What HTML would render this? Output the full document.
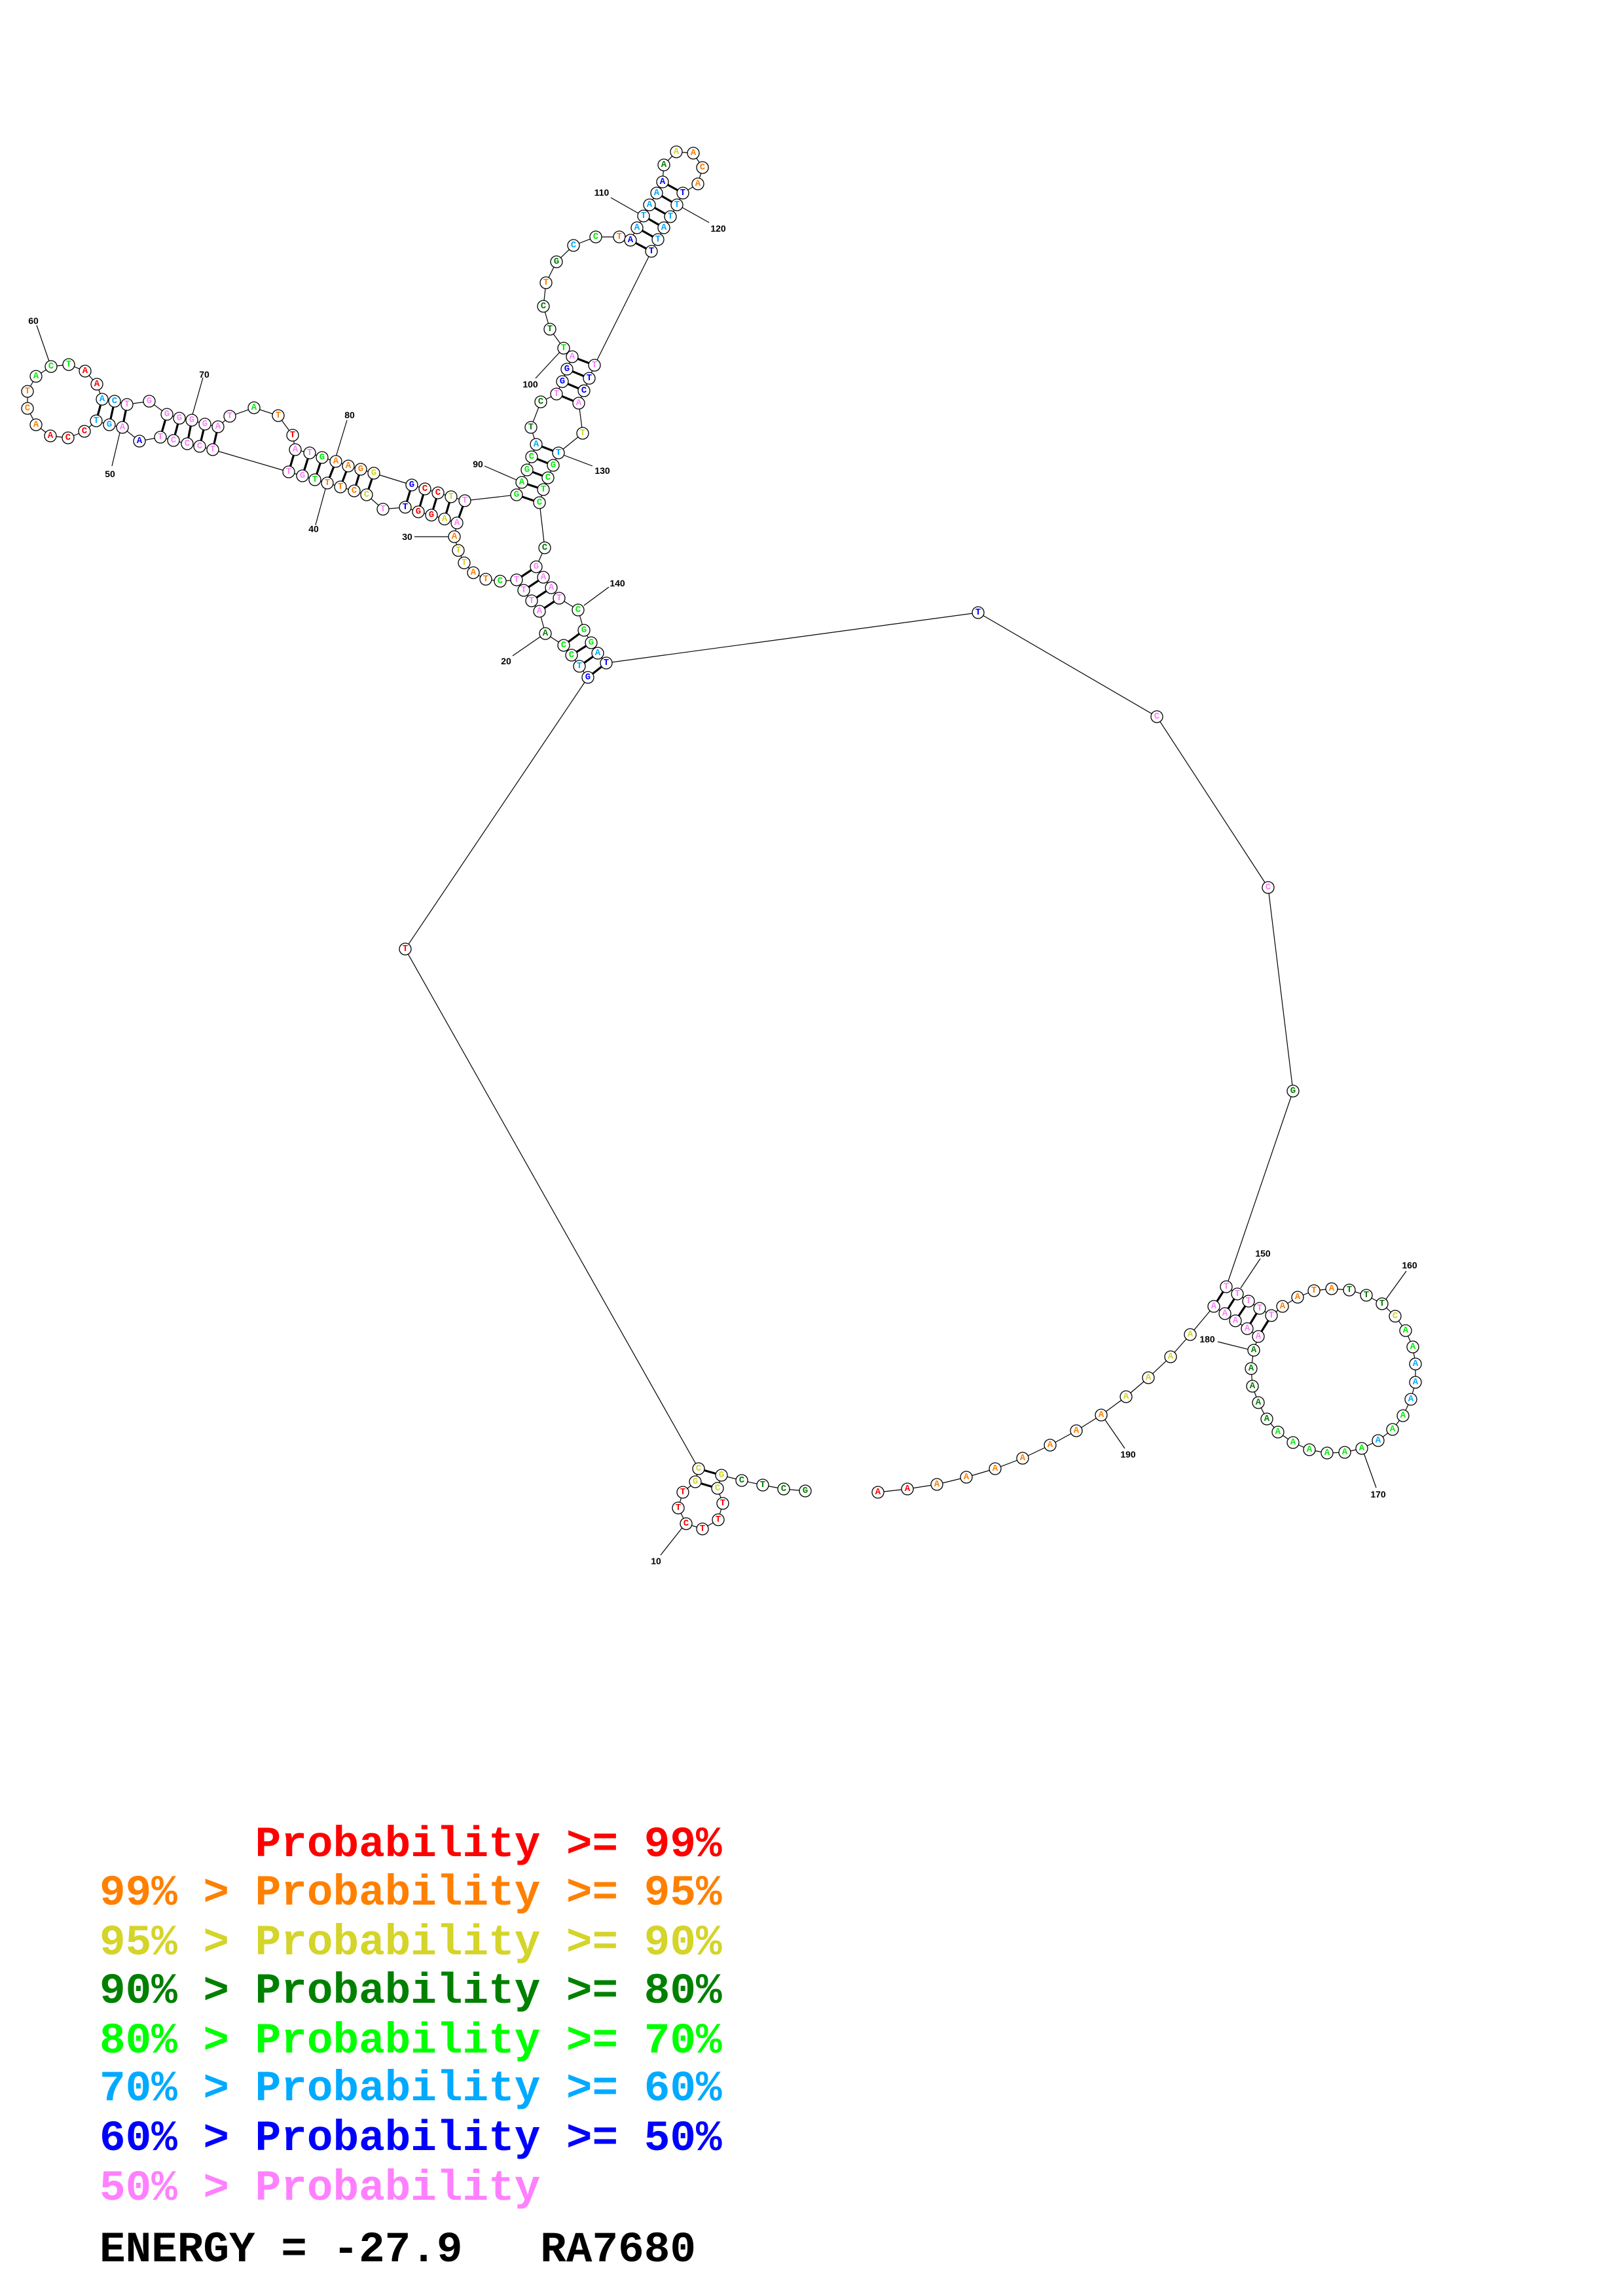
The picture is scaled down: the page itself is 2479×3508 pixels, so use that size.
<!DOCTYPE html>
<html><head><meta charset="utf-8">
<style>
html,body{margin:0;padding:0;background:#fff;}
svg{display:block;}
.n circle{fill:#fff;stroke:#000;stroke-width:1.3;}
.n text{font-family:"Liberation Mono",monospace;font-weight:bold;font-size:14px;text-anchor:middle;dominant-baseline:central;}
.r{fill:#ff0000}.o{fill:#ff8000}.y{fill:#d4d42a}.d{fill:#008000}.g{fill:#00ee00}.lb{fill:#00aaff}.b{fill:#0000ff}.p{fill:#ff80ff}
.lab{font-family:"Liberation Sans",sans-serif;font-weight:bold;font-size:14px;text-anchor:middle;dominant-baseline:central;fill:#000}
.leg{font-family:"Liberation Mono",monospace;font-weight:bold;font-size:66px;white-space:pre;}
</style></head><body>
<svg width="2479" height="3508" viewBox="0 0 2479 3508" xmlns="http://www.w3.org/2000/svg">
<g stroke="#000" stroke-width="1.2" fill="none">
<polyline points="1230,2278 1197,2275 1165,2269 1133,2262 1102,2254 1096,2274 1104,2297 1097,2322 1073,2336 1048,2328 1036,2304 1043,2280 1062,2264 1067,2244 619,1450 898,1035 885,1018 873,1001 861,986 833,968 824,934 812,918 800,902 789,886 764,888 742,885 723,875 709,860 700,841 694,820 698,799 679,793 659,787 639,782 619,775 585,778 560,756 541,750 520,744 500,738 481,733 462,727 441,721 325,687 305,682 286,678 265,673 245,668 213,674 187,653 167,649 147,643 129,659 104,669 77,666 55,649 42,624 42,598 55,575 78,560 105,557 130,567 148,587 156,610 175,613 194,618 228,613 255,633 274,639 293,642 313,648 333,652 351,636 388,623 425,635 447,665 451,687 473,692 492,699 513,705 532,712 551,717 571,723 629,741 649,747 669,753 689,759 710,765 789,756 797,737 805,718 812,698 819,679 811,653 826,614 850,602 859,583 866,564 874,545 861,532 840,503 830,468 834,432 850,400 876,375 910,362 946,362 963,367 973,348 983,330 992,313 1003,295 1012,278 1014,252 1033,232 1059,234 1073,256 1066,281 1043,295 1034,313 1024,331 1014,348 1005,366 995,384 908,558 900,578 892,597 884,616 890,662 853,692 845,711 837,730 830,748 824,768 832,837 819,866 830,882 842,898 854,914 883,932 892,963 903,982 913,998 926,1013 1494,936 1767,1095 1937,1356 1975,1667 1873,1966 1890,1977 1907,1988 1924,1999 1942,2010 1959,1996 1982,1982 2007,1972 2034,1969 2061,1971 2087,1979 2111,1992 2131,2011 2147,2033 2158,2058 2162,2084 2162,2112 2155,2138 2143,2163 2127,2184 2105,2201 2080,2213 2054,2219 2027,2220 2000,2215 1975,2204 1952,2188 1935,2168 1922,2143 1913,2118 1911,2091 1915,2063 1922,2042 1905,2030 1887,2018 1871,2007 1854,1996 1818,2039 1788,2073 1754,2105 1720,2134 1682,2162 1644,2186 1604,2208 1562,2228 1520,2244 1476,2257 1431,2268 1386,2275 1341,2280"/>
</g>
<g stroke="#000" stroke-width="3.2">
<line x1="1067" y1="2244" x2="1102" y2="2254"/><line x1="1062" y1="2264" x2="1096" y2="2274"/>
<line x1="898" y1="1035" x2="926" y2="1013"/><line x1="885" y1="1018" x2="913" y2="998"/><line x1="873" y1="1001" x2="903" y2="982"/><line x1="861" y1="986" x2="892" y2="963"/>
<line x1="789" y1="886" x2="819" y2="866"/><line x1="800" y1="902" x2="830" y2="882"/><line x1="812" y1="918" x2="842" y2="898"/><line x1="824" y1="934" x2="854" y2="914"/>
<line x1="619" y1="775" x2="629" y2="741"/><line x1="639" y1="782" x2="649" y2="747"/><line x1="659" y1="787" x2="669" y2="753"/><line x1="679" y1="793" x2="689" y2="759"/><line x1="698" y1="799" x2="710" y2="765"/>
<line x1="441" y1="721" x2="451" y2="687"/><line x1="462" y1="727" x2="473" y2="692"/><line x1="481" y1="733" x2="492" y2="699"/><line x1="500" y1="738" x2="513" y2="705"/><line x1="520" y1="744" x2="532" y2="712"/><line x1="541" y1="750" x2="551" y2="717"/><line x1="560" y1="756" x2="571" y2="723"/>
<line x1="245" y1="668" x2="255" y2="633"/><line x1="265" y1="673" x2="274" y2="639"/><line x1="286" y1="678" x2="293" y2="642"/><line x1="305" y1="682" x2="313" y2="648"/><line x1="325" y1="687" x2="333" y2="652"/>
<line x1="187" y1="653" x2="194" y2="618"/><line x1="167" y1="649" x2="175" y2="613"/><line x1="147" y1="643" x2="156" y2="610"/>
<line x1="789" y1="756" x2="824" y2="768"/><line x1="797" y1="737" x2="830" y2="748"/><line x1="805" y1="718" x2="837" y2="730"/><line x1="812" y1="698" x2="845" y2="711"/><line x1="819" y1="679" x2="853" y2="692"/>
<line x1="850" y1="602" x2="884" y2="616"/><line x1="859" y1="583" x2="892" y2="597"/><line x1="866" y1="564" x2="900" y2="578"/><line x1="874" y1="545" x2="908" y2="558"/>
<line x1="963" y1="367" x2="995" y2="384"/><line x1="973" y1="348" x2="1005" y2="366"/><line x1="983" y1="330" x2="1014" y2="348"/><line x1="992" y1="313" x2="1024" y2="331"/><line x1="1003" y1="295" x2="1034" y2="313"/><line x1="1012" y1="278" x2="1043" y2="295"/>
<line x1="1873" y1="1966" x2="1854" y2="1996"/><line x1="1890" y1="1977" x2="1871" y2="2007"/><line x1="1907" y1="1988" x2="1887" y2="2018"/><line x1="1924" y1="1999" x2="1905" y2="2030"/><line x1="1942" y1="2010" x2="1922" y2="2042"/>
</g>
<g stroke="#000" stroke-width="1.2">
<line x1="1009" y1="2376" x2="1043" y2="2333"/><line x1="783" y1="1002" x2="825" y2="973"/><line x1="633" y1="820" x2="687" y2="820"/><line x1="482" y1="802" x2="499" y2="740"/><line x1="171" y1="712" x2="184" y2="657"/><line x1="56" y1="497" x2="75" y2="552"/><line x1="310" y1="577" x2="293" y2="637"/><line x1="530" y1="642" x2="513" y2="698"/><line x1="740" y1="712" x2="793" y2="735"/><line x1="818" y1="578" x2="855" y2="538"/><line x1="933" y1="302" x2="977" y2="327"/><line x1="1042" y1="317" x2="1083" y2="340"/><line x1="860" y1="695" x2="905" y2="712"/><line x1="930" y1="897" x2="892" y2="925"/><line x1="1925" y1="1923" x2="1895" y2="1968"/><line x1="2148" y1="1942" x2="2117" y2="1985"/><line x1="2102" y1="2273" x2="2083" y2="2220"/><line x1="1860" y1="2050" x2="1908" y2="2062"/><line x1="1718" y1="2213" x2="1687" y2="2168"/>
</g>
<g>
<text class="lab" x="1002" y="2385">10</text><text class="lab" x="773" y="1010">20</text><text class="lab" x="622" y="820">30</text><text class="lab" x="479" y="808">40</text><text class="lab" x="168" y="724">50</text><text class="lab" x="51" y="490">60</text><text class="lab" x="312" y="572">70</text><text class="lab" x="534" y="634">80</text><text class="lab" x="730" y="709">90</text><text class="lab" x="810" y="587">100</text><text class="lab" x="919" y="294">110</text><text class="lab" x="1097" y="349">120</text><text class="lab" x="920" y="719">130</text><text class="lab" x="943" y="891">140</text><text class="lab" x="1929" y="1915">150</text><text class="lab" x="2153" y="1933">160</text><text class="lab" x="2105" y="2283">170</text><text class="lab" x="1844" y="2046">180</text><text class="lab" x="1723" y="2222">190</text>
</g>
<g class="n">
<circle cx="1230" cy="2278" r="9"/><text class="d" x="1230" y="2278">G</text>
<circle cx="1197" cy="2275" r="9"/><text class="d" x="1197" y="2275">C</text>
<circle cx="1165" cy="2269" r="9"/><text class="d" x="1165" y="2269">T</text>
<circle cx="1133" cy="2262" r="9"/><text class="d" x="1133" y="2262">C</text>
<circle cx="1102" cy="2254" r="9"/><text class="y" x="1102" y="2254">G</text>
<circle cx="1096" cy="2274" r="9"/><text class="y" x="1096" y="2274">C</text>
<circle cx="1104" cy="2297" r="9"/><text class="r" x="1104" y="2297">T</text>
<circle cx="1097" cy="2322" r="9"/><text class="r" x="1097" y="2322">T</text>
<circle cx="1073" cy="2336" r="9"/><text class="r" x="1073" y="2336">T</text>
<circle cx="1048" cy="2328" r="9"/><text class="r" x="1048" y="2328">C</text>
<circle cx="1036" cy="2304" r="9"/><text class="r" x="1036" y="2304">T</text>
<circle cx="1043" cy="2280" r="9"/><text class="r" x="1043" y="2280">T</text>
<circle cx="1062" cy="2264" r="9"/><text class="y" x="1062" y="2264">G</text>
<circle cx="1067" cy="2244" r="9"/><text class="y" x="1067" y="2244">C</text>
<circle cx="619" cy="1450" r="9"/><text class="r" x="619" y="1450">T</text>
<circle cx="898" cy="1035" r="9"/><text class="b" x="898" y="1035">G</text>
<circle cx="885" cy="1018" r="9"/><text class="lb" x="885" y="1018">T</text>
<circle cx="873" cy="1001" r="9"/><text class="g" x="873" y="1001">C</text>
<circle cx="861" cy="986" r="9"/><text class="g" x="861" y="986">C</text>
<circle cx="833" cy="968" r="9"/><text class="d" x="833" y="968">A</text>
<circle cx="824" cy="934" r="9"/><text class="p" x="824" y="934">A</text>
<circle cx="812" cy="918" r="9"/><text class="p" x="812" y="918">T</text>
<circle cx="800" cy="902" r="9"/><text class="p" x="800" y="902">T</text>
<circle cx="789" cy="886" r="9"/><text class="p" x="789" y="886">T</text>
<circle cx="764" cy="888" r="9"/><text class="g" x="764" y="888">C</text>
<circle cx="742" cy="885" r="9"/><text class="o" x="742" y="885">T</text>
<circle cx="723" cy="875" r="9"/><text class="o" x="723" y="875">A</text>
<circle cx="709" cy="860" r="9"/><text class="y" x="709" y="860">T</text>
<circle cx="700" cy="841" r="9"/><text class="y" x="700" y="841">T</text>
<circle cx="694" cy="820" r="9"/><text class="o" x="694" y="820">A</text>
<circle cx="698" cy="799" r="9"/><text class="p" x="698" y="799">A</text>
<circle cx="679" cy="793" r="9"/><text class="y" x="679" y="793">A</text>
<circle cx="659" cy="787" r="9"/><text class="r" x="659" y="787">G</text>
<circle cx="639" cy="782" r="9"/><text class="r" x="639" y="782">G</text>
<circle cx="619" cy="775" r="9"/><text class="b" x="619" y="775">T</text>
<circle cx="585" cy="778" r="9"/><text class="p" x="585" y="778">T</text>
<circle cx="560" cy="756" r="9"/><text class="y" x="560" y="756">C</text>
<circle cx="541" cy="750" r="9"/><text class="o" x="541" y="750">C</text>
<circle cx="520" cy="744" r="9"/><text class="o" x="520" y="744">T</text>
<circle cx="500" cy="738" r="9"/><text class="o" x="500" y="738">T</text>
<circle cx="481" cy="733" r="9"/><text class="g" x="481" y="733">T</text>
<circle cx="462" cy="727" r="9"/><text class="p" x="462" y="727">G</text>
<circle cx="441" cy="721" r="9"/><text class="p" x="441" y="721">T</text>
<circle cx="325" cy="687" r="9"/><text class="p" x="325" y="687">T</text>
<circle cx="305" cy="682" r="9"/><text class="p" x="305" y="682">C</text>
<circle cx="286" cy="678" r="9"/><text class="p" x="286" y="678">C</text>
<circle cx="265" cy="673" r="9"/><text class="p" x="265" y="673">C</text>
<circle cx="245" cy="668" r="9"/><text class="p" x="245" y="668">T</text>
<circle cx="213" cy="674" r="9"/><text class="b" x="213" y="674">A</text>
<circle cx="187" cy="653" r="9"/><text class="p" x="187" y="653">A</text>
<circle cx="167" cy="649" r="9"/><text class="lb" x="167" y="649">G</text>
<circle cx="147" cy="643" r="9"/><text class="lb" x="147" y="643">T</text>
<circle cx="129" cy="659" r="9"/><text class="r" x="129" y="659">C</text>
<circle cx="104" cy="669" r="9"/><text class="r" x="104" y="669">C</text>
<circle cx="77" cy="666" r="9"/><text class="r" x="77" y="666">A</text>
<circle cx="55" cy="649" r="9"/><text class="o" x="55" y="649">A</text>
<circle cx="42" cy="624" r="9"/><text class="o" x="42" y="624">C</text>
<circle cx="42" cy="598" r="9"/><text class="o" x="42" y="598">T</text>
<circle cx="55" cy="575" r="9"/><text class="g" x="55" y="575">A</text>
<circle cx="78" cy="560" r="9"/><text class="g" x="78" y="560">C</text>
<circle cx="105" cy="557" r="9"/><text class="g" x="105" y="557">T</text>
<circle cx="130" cy="567" r="9"/><text class="r" x="130" y="567">A</text>
<circle cx="148" cy="587" r="9"/><text class="r" x="148" y="587">A</text>
<circle cx="156" cy="610" r="9"/><text class="lb" x="156" y="610">A</text>
<circle cx="175" cy="613" r="9"/><text class="lb" x="175" y="613">C</text>
<circle cx="194" cy="618" r="9"/><text class="p" x="194" y="618">T</text>
<circle cx="228" cy="613" r="9"/><text class="p" x="228" y="613">G</text>
<circle cx="255" cy="633" r="9"/><text class="p" x="255" y="633">G</text>
<circle cx="274" cy="639" r="9"/><text class="p" x="274" y="639">G</text>
<circle cx="293" cy="642" r="9"/><text class="p" x="293" y="642">G</text>
<circle cx="313" cy="648" r="9"/><text class="p" x="313" y="648">G</text>
<circle cx="333" cy="652" r="9"/><text class="p" x="333" y="652">A</text>
<circle cx="351" cy="636" r="9"/><text class="p" x="351" y="636">T</text>
<circle cx="388" cy="623" r="9"/><text class="g" x="388" y="623">A</text>
<circle cx="425" cy="635" r="9"/><text class="o" x="425" y="635">T</text>
<circle cx="447" cy="665" r="9"/><text class="r" x="447" y="665">T</text>
<circle cx="451" cy="687" r="9"/><text class="p" x="451" y="687">A</text>
<circle cx="473" cy="692" r="9"/><text class="p" x="473" y="692">T</text>
<circle cx="492" cy="699" r="9"/><text class="g" x="492" y="699">G</text>
<circle cx="513" cy="705" r="9"/><text class="o" x="513" y="705">A</text>
<circle cx="532" cy="712" r="9"/><text class="o" x="532" y="712">A</text>
<circle cx="551" cy="717" r="9"/><text class="o" x="551" y="717">G</text>
<circle cx="571" cy="723" r="9"/><text class="y" x="571" y="723">G</text>
<circle cx="629" cy="741" r="9"/><text class="b" x="629" y="741">G</text>
<circle cx="649" cy="747" r="9"/><text class="r" x="649" y="747">C</text>
<circle cx="669" cy="753" r="9"/><text class="r" x="669" y="753">C</text>
<circle cx="689" cy="759" r="9"/><text class="y" x="689" y="759">T</text>
<circle cx="710" cy="765" r="9"/><text class="p" x="710" y="765">T</text>
<circle cx="789" cy="756" r="9"/><text class="g" x="789" y="756">G</text>
<circle cx="797" cy="737" r="9"/><text class="g" x="797" y="737">A</text>
<circle cx="805" cy="718" r="9"/><text class="g" x="805" y="718">G</text>
<circle cx="812" cy="698" r="9"/><text class="g" x="812" y="698">C</text>
<circle cx="819" cy="679" r="9"/><text class="lb" x="819" y="679">A</text>
<circle cx="811" cy="653" r="9"/><text class="d" x="811" y="653">T</text>
<circle cx="826" cy="614" r="9"/><text class="d" x="826" y="614">C</text>
<circle cx="850" cy="602" r="9"/><text class="p" x="850" y="602">T</text>
<circle cx="859" cy="583" r="9"/><text class="b" x="859" y="583">G</text>
<circle cx="866" cy="564" r="9"/><text class="b" x="866" y="564">G</text>
<circle cx="874" cy="545" r="9"/><text class="p" x="874" y="545">A</text>
<circle cx="861" cy="532" r="9"/><text class="g" x="861" y="532">T</text>
<circle cx="840" cy="503" r="9"/><text class="d" x="840" y="503">T</text>
<circle cx="830" cy="468" r="9"/><text class="d" x="830" y="468">C</text>
<circle cx="834" cy="432" r="9"/><text class="o" x="834" y="432">T</text>
<circle cx="850" cy="400" r="9"/><text class="d" x="850" y="400">G</text>
<circle cx="876" cy="375" r="9"/><text class="lb" x="876" y="375">C</text>
<circle cx="910" cy="362" r="9"/><text class="g" x="910" y="362">C</text>
<circle cx="946" cy="362" r="9"/><text class="o" x="946" y="362">T</text>
<circle cx="963" cy="367" r="9"/><text class="b" x="963" y="367">A</text>
<circle cx="973" cy="348" r="9"/><text class="lb" x="973" y="348">A</text>
<circle cx="983" cy="330" r="9"/><text class="lb" x="983" y="330">T</text>
<circle cx="992" cy="313" r="9"/><text class="lb" x="992" y="313">A</text>
<circle cx="1003" cy="295" r="9"/><text class="lb" x="1003" y="295">A</text>
<circle cx="1012" cy="278" r="9"/><text class="b" x="1012" y="278">A</text>
<circle cx="1014" cy="252" r="9"/><text class="d" x="1014" y="252">A</text>
<circle cx="1033" cy="232" r="9"/><text class="y" x="1033" y="232">A</text>
<circle cx="1059" cy="234" r="9"/><text class="o" x="1059" y="234">A</text>
<circle cx="1073" cy="256" r="9"/><text class="o" x="1073" y="256">C</text>
<circle cx="1066" cy="281" r="9"/><text class="o" x="1066" y="281">A</text>
<circle cx="1043" cy="295" r="9"/><text class="b" x="1043" y="295">T</text>
<circle cx="1034" cy="313" r="9"/><text class="lb" x="1034" y="313">T</text>
<circle cx="1024" cy="331" r="9"/><text class="lb" x="1024" y="331">T</text>
<circle cx="1014" cy="348" r="9"/><text class="lb" x="1014" y="348">A</text>
<circle cx="1005" cy="366" r="9"/><text class="lb" x="1005" y="366">T</text>
<circle cx="995" cy="384" r="9"/><text class="b" x="995" y="384">T</text>
<circle cx="908" cy="558" r="9"/><text class="p" x="908" y="558">T</text>
<circle cx="900" cy="578" r="9"/><text class="b" x="900" y="578">T</text>
<circle cx="892" cy="597" r="9"/><text class="b" x="892" y="597">C</text>
<circle cx="884" cy="616" r="9"/><text class="p" x="884" y="616">A</text>
<circle cx="890" cy="662" r="9"/><text class="y" x="890" y="662">T</text>
<circle cx="853" cy="692" r="9"/><text class="lb" x="853" y="692">T</text>
<circle cx="845" cy="711" r="9"/><text class="g" x="845" y="711">G</text>
<circle cx="837" cy="730" r="9"/><text class="g" x="837" y="730">C</text>
<circle cx="830" cy="748" r="9"/><text class="g" x="830" y="748">T</text>
<circle cx="824" cy="768" r="9"/><text class="g" x="824" y="768">C</text>
<circle cx="832" cy="837" r="9"/><text class="d" x="832" y="837">C</text>
<circle cx="819" cy="866" r="9"/><text class="p" x="819" y="866">G</text>
<circle cx="830" cy="882" r="9"/><text class="p" x="830" y="882">A</text>
<circle cx="842" cy="898" r="9"/><text class="p" x="842" y="898">A</text>
<circle cx="854" cy="914" r="9"/><text class="p" x="854" y="914">T</text>
<circle cx="883" cy="932" r="9"/><text class="g" x="883" y="932">C</text>
<circle cx="892" cy="963" r="9"/><text class="g" x="892" y="963">G</text>
<circle cx="903" cy="982" r="9"/><text class="g" x="903" y="982">G</text>
<circle cx="913" cy="998" r="9"/><text class="lb" x="913" y="998">A</text>
<circle cx="926" cy="1013" r="9"/><text class="b" x="926" y="1013">T</text>
<circle cx="1494" cy="936" r="9"/><text class="b" x="1494" y="936">T</text>
<circle cx="1767" cy="1095" r="9"/><text class="p" x="1767" y="1095">C</text>
<circle cx="1937" cy="1356" r="9"/><text class="p" x="1937" y="1356">C</text>
<circle cx="1975" cy="1667" r="9"/><text class="d" x="1975" y="1667">G</text>
<circle cx="1873" cy="1966" r="9"/><text class="p" x="1873" y="1966">T</text>
<circle cx="1890" cy="1977" r="9"/><text class="p" x="1890" y="1977">T</text>
<circle cx="1907" cy="1988" r="9"/><text class="p" x="1907" y="1988">T</text>
<circle cx="1924" cy="1999" r="9"/><text class="p" x="1924" y="1999">T</text>
<circle cx="1942" cy="2010" r="9"/><text class="p" x="1942" y="2010">T</text>
<circle cx="1959" cy="1996" r="9"/><text class="o" x="1959" y="1996">A</text>
<circle cx="1982" cy="1982" r="9"/><text class="o" x="1982" y="1982">A</text>
<circle cx="2007" cy="1972" r="9"/><text class="o" x="2007" y="1972">T</text>
<circle cx="2034" cy="1969" r="9"/><text class="o" x="2034" y="1969">A</text>
<circle cx="2061" cy="1971" r="9"/><text class="d" x="2061" y="1971">T</text>
<circle cx="2087" cy="1979" r="9"/><text class="d" x="2087" y="1979">T</text>
<circle cx="2111" cy="1992" r="9"/><text class="d" x="2111" y="1992">T</text>
<circle cx="2131" cy="2011" r="9"/><text class="y" x="2131" y="2011">C</text>
<circle cx="2147" cy="2033" r="9"/><text class="g" x="2147" y="2033">A</text>
<circle cx="2158" cy="2058" r="9"/><text class="g" x="2158" y="2058">A</text>
<circle cx="2162" cy="2084" r="9"/><text class="lb" x="2162" y="2084">A</text>
<circle cx="2162" cy="2112" r="9"/><text class="lb" x="2162" y="2112">A</text>
<circle cx="2155" cy="2138" r="9"/><text class="lb" x="2155" y="2138">A</text>
<circle cx="2143" cy="2163" r="9"/><text class="g" x="2143" y="2163">A</text>
<circle cx="2127" cy="2184" r="9"/><text class="g" x="2127" y="2184">A</text>
<circle cx="2105" cy="2201" r="9"/><text class="lb" x="2105" y="2201">A</text>
<circle cx="2080" cy="2213" r="9"/><text class="g" x="2080" y="2213">A</text>
<circle cx="2054" cy="2219" r="9"/><text class="g" x="2054" y="2219">A</text>
<circle cx="2027" cy="2220" r="9"/><text class="g" x="2027" y="2220">A</text>
<circle cx="2000" cy="2215" r="9"/><text class="g" x="2000" y="2215">A</text>
<circle cx="1975" cy="2204" r="9"/><text class="g" x="1975" y="2204">A</text>
<circle cx="1952" cy="2188" r="9"/><text class="g" x="1952" y="2188">A</text>
<circle cx="1935" cy="2168" r="9"/><text class="d" x="1935" y="2168">A</text>
<circle cx="1922" cy="2143" r="9"/><text class="d" x="1922" y="2143">A</text>
<circle cx="1913" cy="2118" r="9"/><text class="d" x="1913" y="2118">A</text>
<circle cx="1911" cy="2091" r="9"/><text class="d" x="1911" y="2091">A</text>
<circle cx="1915" cy="2063" r="9"/><text class="d" x="1915" y="2063">A</text>
<circle cx="1922" cy="2042" r="9"/><text class="p" x="1922" y="2042">A</text>
<circle cx="1905" cy="2030" r="9"/><text class="p" x="1905" y="2030">A</text>
<circle cx="1887" cy="2018" r="9"/><text class="p" x="1887" y="2018">A</text>
<circle cx="1871" cy="2007" r="9"/><text class="p" x="1871" y="2007">A</text>
<circle cx="1854" cy="1996" r="9"/><text class="p" x="1854" y="1996">A</text>
<circle cx="1818" cy="2039" r="9"/><text class="y" x="1818" y="2039">A</text>
<circle cx="1788" cy="2073" r="9"/><text class="y" x="1788" y="2073">A</text>
<circle cx="1754" cy="2105" r="9"/><text class="y" x="1754" y="2105">A</text>
<circle cx="1720" cy="2134" r="9"/><text class="y" x="1720" y="2134">A</text>
<circle cx="1682" cy="2162" r="9"/><text class="o" x="1682" y="2162">A</text>
<circle cx="1644" cy="2186" r="9"/><text class="o" x="1644" y="2186">A</text>
<circle cx="1604" cy="2208" r="9"/><text class="o" x="1604" y="2208">A</text>
<circle cx="1562" cy="2228" r="9"/><text class="o" x="1562" y="2228">A</text>
<circle cx="1520" cy="2244" r="9"/><text class="o" x="1520" y="2244">A</text>
<circle cx="1476" cy="2257" r="9"/><text class="o" x="1476" y="2257">A</text>
<circle cx="1431" cy="2268" r="9"/><text class="o" x="1431" y="2268">A</text>
<circle cx="1386" cy="2275" r="9"/><text class="r" x="1386" y="2275">A</text>
<circle cx="1341" cy="2280" r="9"/><text class="r" x="1341" y="2280">A</text>
</g>
<text class="leg" x="152" y="2836" fill="#ff0000">      Probability &gt;= 99%</text>
<text class="leg" x="152" y="2910" fill="#ff8000">99% &gt; Probability &gt;= 95%</text>
<text class="leg" x="152" y="2986" fill="#d4d42a">95% &gt; Probability &gt;= 90%</text>
<text class="leg" x="152" y="3060" fill="#008000">90% &gt; Probability &gt;= 80%</text>
<text class="leg" x="152" y="3136" fill="#00ff00">80% &gt; Probability &gt;= 70%</text>
<text class="leg" x="152" y="3209" fill="#00aaff">70% &gt; Probability &gt;= 60%</text>
<text class="leg" x="152" y="3285" fill="#0000ff">60% &gt; Probability &gt;= 50%</text>
<text class="leg" x="152" y="3361" fill="#ff80ff">50% &gt; Probability</text>
<text class="leg" x="152" y="3455" fill="#000000">ENERGY = -27.9   RA7680</text>
</svg>
</body></html>
